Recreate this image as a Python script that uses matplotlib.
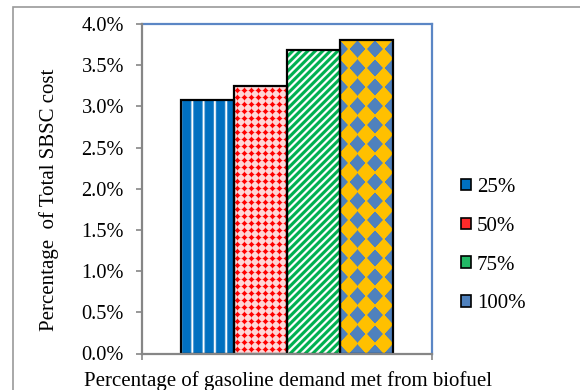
import numpy as np
import matplotlib
matplotlib.use("Agg")
import matplotlib.pyplot as plt
from matplotlib.patches import Patch, Rectangle
from matplotlib.ticker import MultipleLocator, FuncFormatter

# Share of total SBSC cost (%) by share of gasoline demand met from biofuel
categories = ["25%", "50%", "75%", "100%"]
cost_share = [3.08, 3.25, 3.69, 3.80]
y_max = 4.0
y_step = 0.5

plt.rcParams['font.family'] = ['Liberation Serif', 'DejaVu Serif']
FS = 15
FS_TICK = 14.7

W, H = 580, 390
fig = plt.figure(figsize=(W / 100, H / 100), dpi=100)
ax = fig.add_axes([142 / W, 1 - 353.5 / H, (431.5 - 142) / W, (353.5 - 24) / H])
ax.set_xlim(-0.5, 0.5)
ax.set_ylim(0, y_max)

bar_w = 53 / 289.5
xpos = (np.arange(len(categories)) - (len(categories) - 1) / 2) * bar_w
bars = ax.bar(xpos, cost_share, width=bar_w, facecolor='none',
              edgecolor='black', linewidth=1.6, zorder=4)


def mix(base, top, w):
    base = np.asarray(base, float) / 255
    top = np.asarray(top, float) / 255
    w = np.clip(w, 0, 1)[..., None]
    return base * (1 - w) + top * w


def tex_stripes(px, py):
    s = np.mod(px, 11.3)
    d = np.minimum(s, 11.3 - s)
    w = np.exp(-(d / 1.1) ** 2)
    return mix((0, 112, 192), (255, 255, 255), w * 1.1)


def tex_crosses(px, py):
    u = np.mod(px, 7.0) - 3.5
    v = np.mod(py, 7.0) - 3.5
    d = np.abs(u) + np.abs(v)
    w = np.clip((d - 1.9) / 1.5, 0, 1) * 0.85
    return mix((255, 0, 0), (255, 255, 255), w)


def tex_diagonal(px, py):
    s = np.mod(px - py, 7.5) / 7.5
    w = 0.5 + 0.5 * np.cos(2 * np.pi * s)
    w = np.clip((w - 0.35) * 1.8, 0, 1)
    return mix((0, 176, 80), (255, 255, 255), w)


def tex_diamonds(px, py):
    u = np.mod(px / 17.5, 1.0) - 0.5
    v = np.mod(py / 19.0, 1.0) - 0.5
    d = np.abs(u) + np.abs(v)
    w = np.clip((d - 0.52) / 0.05, 0, 1)
    return mix((255, 192, 0), (79, 129, 189), w)


textures = [tex_stripes, tex_crosses, tex_diagonal, tex_diamonds]

# Fill each bar with its pattern, clipped to the bar outline
for bar, tex in zip(bars, textures):
    x0, y0 = bar.get_x(), bar.get_y()
    x1, y1 = x0 + bar.get_width(), y0 + bar.get_height()
    (dx0, dy0), (dx1, dy1) = ax.transData.transform([(x0, y0), (x1, y1)])
    nx, ny = int(np.ceil(dx1 - dx0)), int(np.ceil(dy1 - dy0))
    px, py = np.meshgrid(np.arange(nx) + 0.5, np.arange(ny) + 0.5)
    img = tex(px, py)
    im = ax.imshow(img, extent=(x0, x1, y0, y1), origin='lower',
                   interpolation='bilinear', aspect='auto', zorder=3)
    im.set_clip_path(bar)

ax.set_xlim(-0.5, 0.5)
ax.set_ylim(0, y_max)

# Axes styling
gray = '#868686'
blue = '#5B86C5'
ax.spines['left'].set_color(gray)
ax.spines['bottom'].set_color(gray)
ax.spines['top'].set_color(blue)
ax.spines['right'].set_color(blue)
for s in ax.spines.values():
    s.set_linewidth(1.6)
ax.spines['left'].set_zorder(5)
ax.spines['bottom'].set_zorder(5)

ax.yaxis.set_major_locator(MultipleLocator(y_step))
ax.yaxis.set_major_formatter(FuncFormatter(lambda v, _: f"{v:.1f}%"))
ax.tick_params(axis='y', direction='out', length=4.5, width=1.2, color=gray,
               labelsize=FS_TICK, pad=8.5)
ax.set_xticks([-0.5, 0.5])
ax.set_xticklabels([])
ax.tick_params(axis='x', direction='out', length=4, width=1.2, color=gray)

fig.text(49 / W, 1 - 200 / H, "Percentage  of Total SBSC cost", rotation=90,
         ha='center', va='center', fontsize=FS)
fig.text(287.5 / W, 1 - 386 / H, "Percentage of gasoline demand met from biofuel",
         ha='center', va='baseline', fontsize=FS)

# Legend
legend_colors = ['#0070C0', '#FF2A2A', '#22B865', '#4F81BD']
handles = [Patch(facecolor=c, edgecolor='black', linewidth=1.2)
           for c in legend_colors]
fig.legend(handles, categories, loc='upper left',
           bbox_to_anchor=(461 / W, 1 - 178 / H), frameon=False,
           fontsize=FS, handlelength=0.47, handleheight=0.47,
           handletextpad=0.3, labelspacing=0.95, borderpad=0,
           borderaxespad=0)

# Outer chart border
fig.patches.append(Rectangle((13 / W, -0.2), 1.2, 1.2 - 7 / H,
                             transform=fig.transFigure, fill=False,
                             edgecolor='#9A9A9A', linewidth=1.2))

fig.savefig("out.png", dpi=100)
